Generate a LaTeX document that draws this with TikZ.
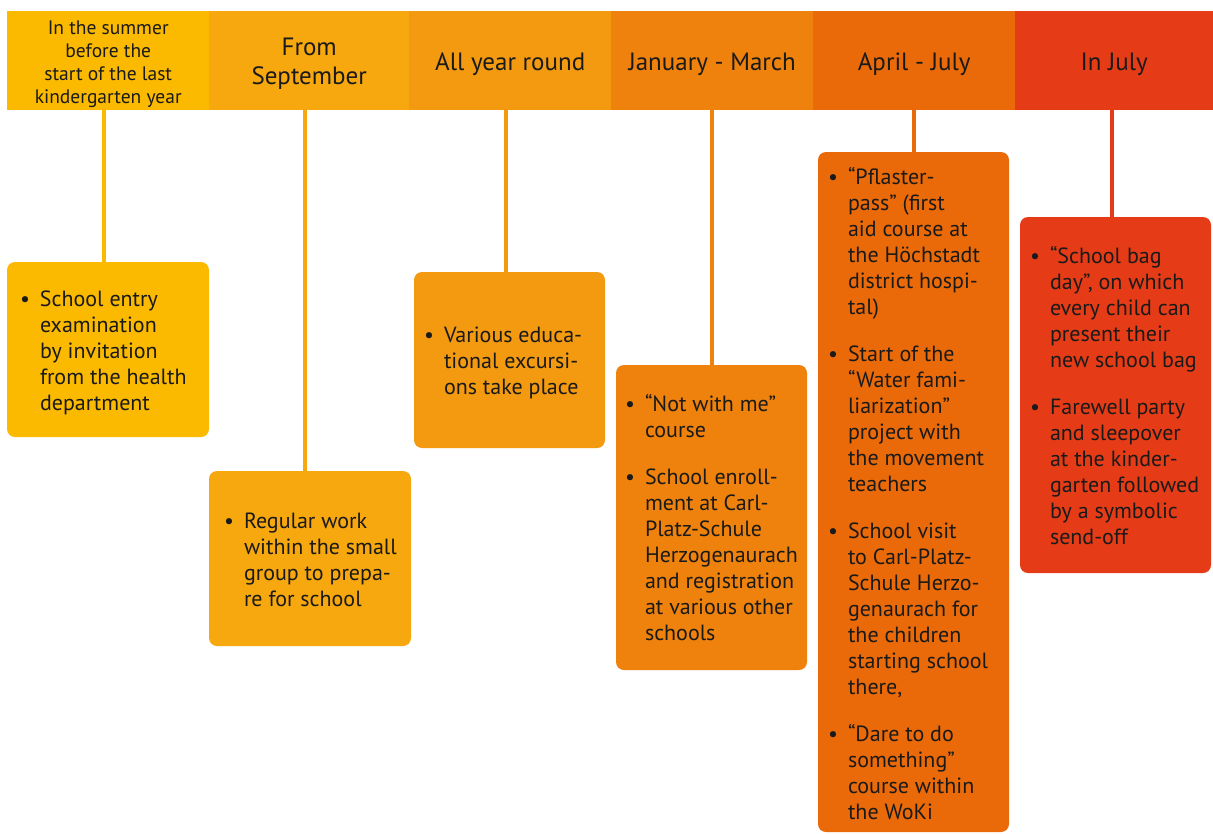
\documentclass[tikz,border=0pt]{standalone}
\usepackage{fontspec}
\setmainfont{PT Sans}
\definecolor{c1}{HTML}{FBBA00}
\definecolor{c2}{HTML}{F7A80F}
\definecolor{c3}{HTML}{F39A11}
\definecolor{c4}{HTML}{EE820D}
\definecolor{c5}{HTML}{EA6A09}
\definecolor{c6}{HTML}{E53C17}
\definecolor{ink}{HTML}{1A1A1A}
\newcommand\itm[1]{\makebox[20pt][l]{\textbullet}\begin{tabular}[t]{@{}l@{}}#1\end{tabular}}
\tikzset{
  hdrbox/.style={anchor=north west, minimum height=99pt, inner sep=0pt},
  hdrtxt/.style={inner sep=0pt, align=center, text=ink, font=\fontsize{25}{29}\selectfont},
  cardbox/.style={rounded corners=8pt, inner sep=0pt},
  cardtxt/.style={inner sep=0pt, align=left, text=ink, font=\fontsize{22}{26}\selectfont},
  conn/.style={line width=4pt}
}
\begin{document}
\begin{tikzpicture}[x=1pt,y=-1pt]
\useasboundingbox[fill=white] (0,0) rectangle (1213,833);
% header bar
\node[hdrbox, fill=c1, minimum width=202pt] (h1) at (7,11) {};
\node[hdrbox, fill=c2, minimum width=200pt] (h2) at (209,11) {};
\node[hdrbox, fill=c3, minimum width=202pt] (h3) at (409,11) {};
\node[hdrbox, fill=c4, minimum width=202pt] (h4) at (611,11) {};
\node[hdrbox, fill=c5, minimum width=202pt] (h5) at (813,11) {};
\node[hdrbox, fill=c6, minimum width=198pt] (h6) at (1015,11) {};
\node[hdrtxt, font=\fontsize{19.5}{22.7}\selectfont] (ht1) at ([yshift=-3.5pt]h1.center)
  {In the summer\\before the\\start of the last\\kindergarten year};
\node[hdrtxt] (ht2) at ([yshift=-3.5pt]h2.center) {From\\September};
\node[hdrtxt] (ht3) at ([yshift=-3.5pt]h3.center) {All year round};
\node[hdrtxt] (ht4) at ([yshift=-3.5pt]h4.center) {January - March};
\node[hdrtxt] (ht5) at ([yshift=-3.5pt]h5.center) {April - July};
\node[hdrtxt] (ht6) at ([yshift=-3.5pt]h6.center) {In July};
% card boxes
\node[cardbox, fill=c1, minimum width=202pt, minimum height=175pt] (b1) at (108,349.5) {};
\node[cardbox, fill=c2, minimum width=202pt, minimum height=175pt] (b2) at (310,558.5) {};
\node[cardbox, fill=c3, minimum width=191pt, minimum height=176pt] (b3) at (509.5,360) {};
\node[cardbox, fill=c4, minimum width=191pt, minimum height=305pt] (b4) at (711.5,517.5) {};
\node[cardbox, fill=c5, minimum width=191pt, minimum height=680pt] (b5) at (913.5,492) {};
\node[cardbox, fill=c6, minimum width=191pt, minimum height=356pt] (b6) at (1115.5,395) {};
% card texts
\node[cardtxt, anchor=west] (t1) at ([xshift=13pt,yshift=-3.5pt]b1.west)
  {\itm{School entry\\examination\\by invitation\\from the health\\department}};
\node[cardtxt, anchor=west] (t2) at ([xshift=15pt,yshift=-3.5pt]b2.west)
  {\itm{Regular work\\within the small\\group to prepa-\\re for school}};
\node[cardtxt, anchor=west] (t3) at ([xshift=10pt,yshift=-3.5pt]b3.west)
  {\itm{Various educa-\\tional excursi-\\ons take place}};
\node[cardtxt, anchor=west] (t4) at ([xshift=9pt,yshift=-3.5pt]b4.west)
  {\itm{“Not with me”\\course}\\[20pt]
   \itm{School enroll-\\ment at Carl-\\Platz-Schule\\Herzogenaurach\\and registration\\at various other\\schools}};
\node[cardtxt, anchor=west] (t5) at ([xshift=10pt,yshift=-5pt]b5.west)
  {\itm{“Pflaster-\\pass” (first\\aid course at\\the Höchstadt\\district hospi-\\tal)}\\[20pt]
   \itm{Start of the\\“Water fami-\\liarization”\\project with\\the movement\\teachers}\\[20pt]
   \itm{School visit\\to Carl-Platz-\\Schule Herzo-\\genaurach for\\the children\\starting school\\there,}\\[20pt]
   \itm{“Dare to do\\something”\\course within\\the WoKi}};
\node[cardtxt, anchor=west] (t6) at ([xshift=10pt,yshift=-3.5pt]b6.west)
  {\itm{“School bag\\day”, on which\\every child can\\present their\\new school bag}\\[20pt]
   \itm{Farewell party\\and sleepover\\at the kinder-\\garten followed\\by a symbolic\\send-off}};
% connectors
\draw[conn, c1] ([xshift=-4pt]h1.south) -- ([xshift=-4pt]h1.south |- b1.north);
\draw[conn, c2] ([xshift=-4pt]h2.south) -- ([xshift=-4pt]h2.south |- b2.north);
\draw[conn, c3] ([xshift=-4pt]h3.south) -- ([xshift=-4pt]h3.south |- b3.north);
\draw[conn, c4] ([xshift=0pt]h4.south) -- ([xshift=0pt]h4.south |- b4.north);
\draw[conn, c5] ([xshift=0pt]h5.south) -- ([xshift=0pt]h5.south |- b5.north);
\draw[conn, c6] ([xshift=-2pt]h6.south) -- ([xshift=-2pt]h6.south |- b6.north);
\end{tikzpicture}
\end{document}
